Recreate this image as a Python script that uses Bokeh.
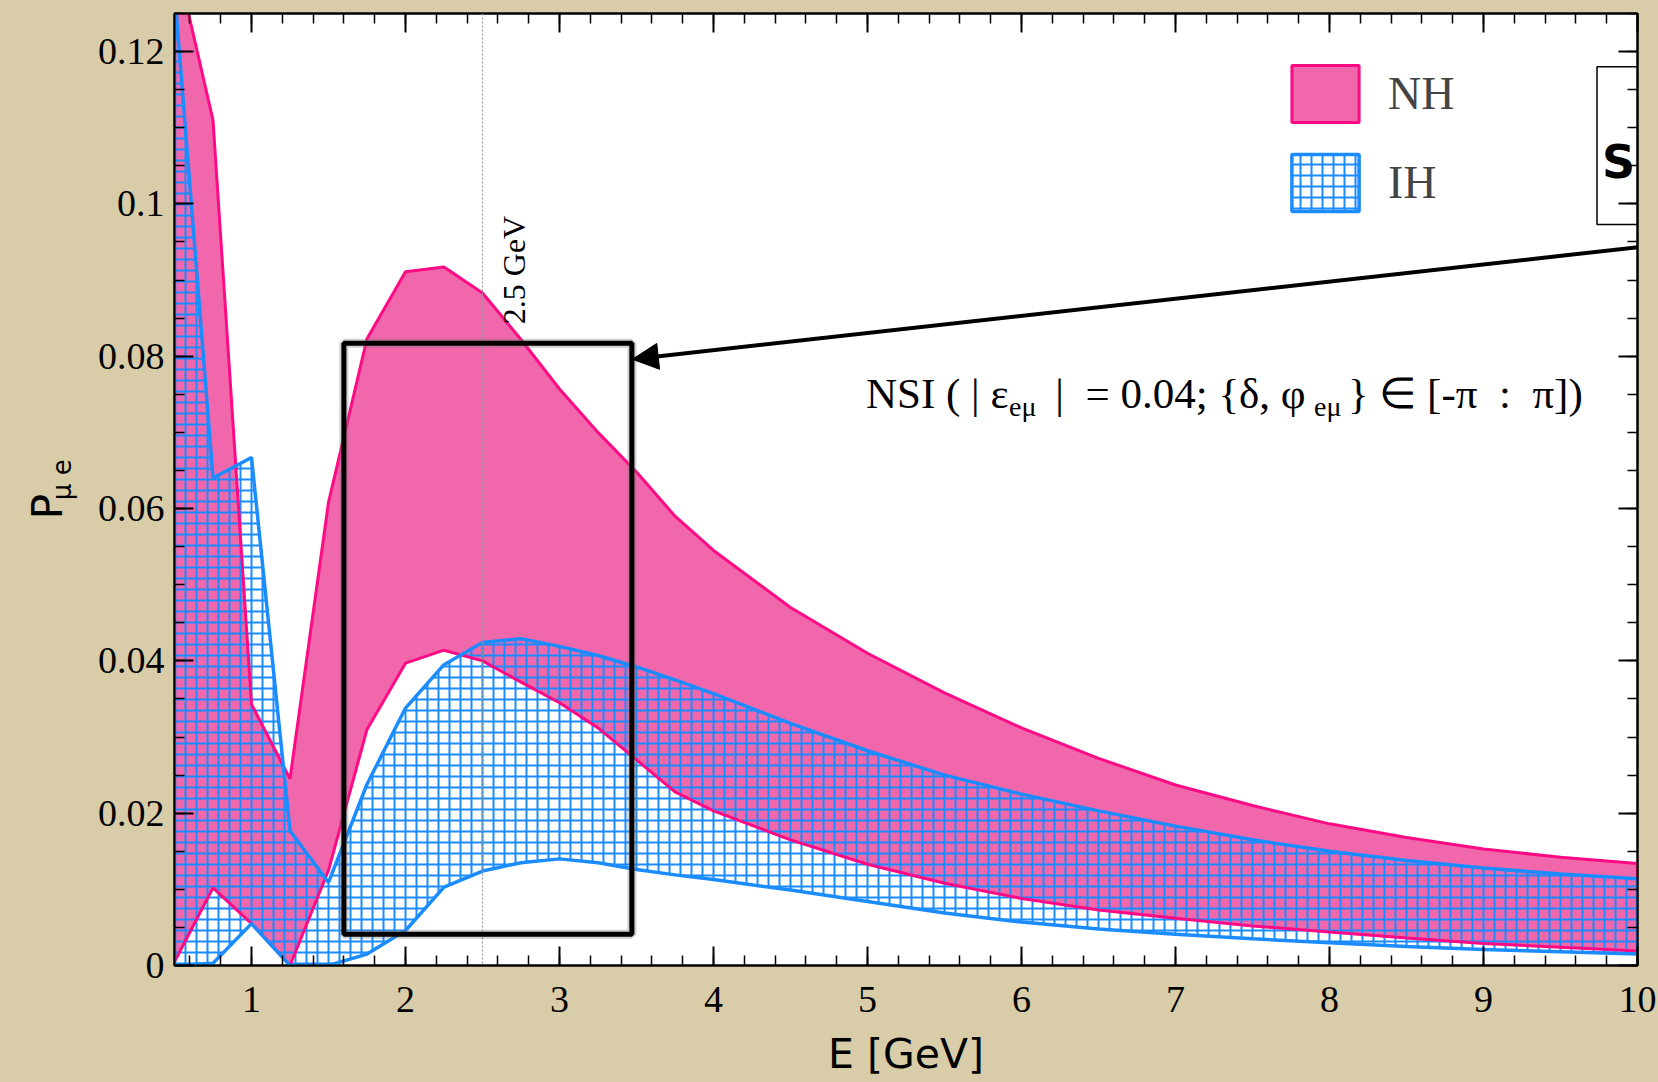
import numpy as np
from bokeh.plotting import figure
from bokeh.layouts import row
from bokeh.models import (Range1d, LinearAxis, SingleIntervalTicker, PrintfTickFormatter,
                          CustomJSTickFormatter, Span, Label, BoxAnnotation, Arrow, NormalHead,
                          Legend, LegendItem)
from bokeh.embed import file_html
from bokeh.resources import INLINE

# ---------------- data ----------------
energy = [0.5, 0.75, 1.0, 1.25, 1.5, 1.75, 2.0, 2.25, 2.5, 2.75, 3.0, 3.25, 3.5, 3.75,
          4.0, 4.5, 5.0, 5.5, 6.0, 6.5, 7.0, 7.5, 8.0, 8.5, 9.0, 9.5, 10.0]
nh_upper = [0.133, 0.111, 0.0343, 0.0245, 0.0608, 0.0823, 0.0911, 0.0917, 0.0883, 0.0822,
            0.0757, 0.0700, 0.0648, 0.0590, 0.0545, 0.0470, 0.0410, 0.0358, 0.0312, 0.0272,
            0.0237, 0.0210, 0.0186, 0.0168, 0.0153, 0.0142, 0.0134]
nh_lower = [0.0005, 0.0102, 0.0055, 0.0, 0.0125, 0.0310, 0.0397, 0.0414, 0.0400, 0.0372,
            0.0345, 0.0312, 0.0270, 0.0228, 0.0203, 0.0165, 0.0133, 0.0108, 0.0088, 0.0073,
            0.0062, 0.0052, 0.0044, 0.0036, 0.0029, 0.0024, 0.0019]
ih_upper = [0.128, 0.064, 0.0667, 0.0177, 0.0109, 0.0238, 0.0338, 0.0395, 0.0424, 0.0429,
            0.0419, 0.0407, 0.0392, 0.0375, 0.0357, 0.0318, 0.0282, 0.0250, 0.0225, 0.0203,
            0.0183, 0.0165, 0.0150, 0.0138, 0.0128, 0.0120, 0.0114]
ih_lower = [0.0, 0.0003, 0.0055, 0.0, 0.0, 0.0015, 0.0046, 0.0103, 0.0124, 0.0135,
            0.0140, 0.0135, 0.0126, 0.0119, 0.0113, 0.0099, 0.0084, 0.0069, 0.0057, 0.0048,
            0.0041, 0.0035, 0.0030, 0.0025, 0.0021, 0.0018, 0.0015]

series_names = ["NH", "IH"]
x_label = "E [GeV]"
y_label_main = "P"
y_label_sub = "μ e"
marker_energy = 2.5
marker_label = "2.5 GeV"
zoom_box_e = [1.6, 3.47]
zoom_box_p = [0.0041, 0.0817]
arrow_from = [10.13, 0.0946]
arrow_to = [3.473, 0.0796]
sketch_box_e = [9.737, 10.6]
sketch_box_p = [0.0973, 0.118]

PINK = "#ff0a85"
BLUE = "#1a8cff"
BG = "#d8cda8"
NBSP = "\u00a0"
Y_RANGE = (0, 0.125)

# ---------------- left strip with the y-axis title ----------------
left = figure(frame_width=80, frame_height=952, x_range=Range1d(0, 80),
              y_range=Range1d(*Y_RANGE), title=None,
              output_backend="svg", toolbar_location=None, x_axis_location=None,
              y_axis_location=None, min_border_left=0, min_border_right=0,
              min_border_top=13, min_border_bottom=117, background_fill_color=BG,
              border_fill_color=BG, outline_line_color=None)
left.grid.visible = False
left.add_layout(Label(x=47, y=0.0586, text=y_label_main, angle=np.pi / 2, text_align="left",
                      text_baseline="alphabetic", text_font="DejaVu Sans",
                      text_font_size="42px", text_color="black"))
left.add_layout(Label(x=61, y=0.0611, text=y_label_sub, angle=np.pi / 2, text_align="left",
                      text_baseline="alphabetic", text_font="DejaVu Sans",
                      text_font_size="26px", text_color="black"))

# ---------------- main plot ----------------
p = figure(width=1578, height=1082, x_range=Range1d(0.5, 10), y_range=Range1d(*Y_RANGE),
           output_backend="svg", toolbar_location=None,
           min_border_left=94, min_border_right=21, min_border_top=13, min_border_bottom=117,
           background_fill_color="white", border_fill_color=BG,
           outline_line_color="black", outline_line_width=2)
p.xgrid.visible = False
p.ygrid.visible = False

x_poly = energy + energy[::-1]
nh_poly = nh_upper + nh_lower[::-1]
ih_poly = ih_upper + ih_lower[::-1]

nh_fill = p.patch(x_poly, nh_poly, fill_color="#e8157f", fill_alpha=0.65, line_alpha=0)
ih_fill = p.patch(x_poly, ih_poly, fill_alpha=0, hatch_pattern="cross", hatch_color=BLUE,
                  hatch_scale=11, hatch_weight=2, line_alpha=0)
nh_line = p.patch(x_poly, nh_poly, fill_alpha=0, line_color=PINK, line_width=3)
ih_line = p.patch(x_poly, ih_poly, fill_alpha=0, line_color=BLUE, line_width=3.5)

tick_font = "Liberation Serif"
p.xaxis.ticker = SingleIntervalTicker(interval=1, num_minor_ticks=5)
p.yaxis.ticker = SingleIntervalTicker(interval=0.02, num_minor_ticks=4)
p.xaxis.formatter = PrintfTickFormatter(format="%g")
p.yaxis.formatter = PrintfTickFormatter(format="%g")
for ax in (p.xaxis[0], p.yaxis[0]):
    ax.major_tick_in = 19
    ax.major_tick_out = 0
    ax.minor_tick_in = 10
    ax.minor_tick_out = 0
    ax.axis_line_width = 2
    ax.major_tick_line_width = 2
    ax.minor_tick_line_width = 1.5
    ax.major_label_text_font = tick_font
    ax.major_label_text_font_size = "38px"
    ax.major_label_text_color = "black"
p.xaxis.major_label_standoff = 21
p.yaxis.major_label_standoff = 10
p.xaxis.axis_label = x_label
p.xaxis.axis_label_text_font = "DejaVu Sans"
p.xaxis.axis_label_text_font_size = "41px"
p.xaxis.axis_label_text_font_style = "normal"
p.xaxis.axis_label_text_color = "black"
p.xaxis.axis_label_standoff = 15

blank = CustomJSTickFormatter(code="return ''")
top_ax = LinearAxis(ticker=SingleIntervalTicker(interval=1, num_minor_ticks=5), formatter=blank)
right_ax = LinearAxis(ticker=SingleIntervalTicker(interval=0.02, num_minor_ticks=4), formatter=blank)
for ax in (top_ax, right_ax):
    ax.major_tick_in = 19
    ax.major_tick_out = 0
    ax.minor_tick_in = 10
    ax.minor_tick_out = 0
    ax.axis_line_width = 2
    ax.major_tick_line_width = 2
    ax.minor_tick_line_width = 1.5
    ax.major_label_text_font_size = "1px"
    ax.major_label_standoff = 0
p.add_layout(top_ax, "above")
p.add_layout(right_ax, "right")

# 2.5 GeV marker
p.add_layout(Span(location=marker_energy, dimension="height", line_color="#9a9a9a",
                  line_width=1.2, line_dash="2 2"))
p.add_layout(Label(x=marker_energy, x_offset=31, y=0.0842, text=marker_label, angle=np.pi / 2,
                   text_align="left", text_baseline="alphabetic", text_font="Liberation Serif",
                   text_font_size="32px", text_color="black"))

# zoom box (with a soft shadow) + arrow
p.add_layout(BoxAnnotation(left=zoom_box_e[0], right=zoom_box_e[1], bottom=zoom_box_p[0],
                           top=zoom_box_p[1], fill_alpha=0, line_color="#777777",
                           line_alpha=0.35, line_width=9))
p.add_layout(BoxAnnotation(left=zoom_box_e[0], right=zoom_box_e[1], bottom=zoom_box_p[0],
                           top=zoom_box_p[1], fill_alpha=0, line_color="black", line_alpha=1,
                           line_width=5))
p.add_layout(Arrow(end=NormalHead(size=26, fill_color="black", line_color="black"),
                   x_start=arrow_from[0], y_start=arrow_from[1],
                   x_end=arrow_to[0], y_end=arrow_to[1], line_width=4, line_color="black"))

# NSI annotation, pieces with subscripts
nsi_font = "Liberation Serif"
nsi_pieces = [
    (4.990, 0.0731, 15, "NSI" + NBSP + "(" + NBSP + "|" + NBSP + "ε", "43px"),
    (5.919, 0.0721, 10, "eμ", "28px"),
    (6.150, 0.0731, 15, NBSP + "|" + NBSP + NBSP + "=" + NBSP + "0.04;" + NBSP + "{δ," + NBSP + "φ", "43px"),
    (7.900, 0.0721, 10, "eμ", "28px"),
    (8.120, 0.0731, 15, "}" + NBSP + "∈" + NBSP + "[-π" + NBSP + NBSP + ":" + NBSP + NBSP + "π])", "43px"),
]
for xx, yy, yo, tt, fs in nsi_pieces:
    p.add_layout(Label(x=xx, y=yy, y_offset=yo, text=tt, text_align="left",
                       text_baseline="alphabetic", text_font=nsi_font, text_font_size=fs,
                       text_color="black"))

# sketch box at top right with its "S"
p.add_layout(BoxAnnotation(left=sketch_box_e[0], right=sketch_box_e[1], bottom=sketch_box_p[0],
                           top=sketch_box_p[1], fill_alpha=0, line_color="black", line_alpha=1,
                           line_width=1.5))
p.add_layout(Label(x=9.77, y=0.1035, y_offset=15, text="S", text_align="left",
                   text_baseline="alphabetic", text_font="DejaVu Sans", text_font_style="bold",
                   text_font_size="46px", text_color="black"))

# legend
legend = Legend(items=[LegendItem(label=series_names[0], renderers=[nh_fill, nh_line]),
                       LegendItem(label=series_names[1], renderers=[ih_fill, ih_line])],
                location=(1109, 747), orientation="vertical", glyph_width=84, glyph_height=71,
                spacing=18, padding=0, margin=0, label_standoff=21,
                label_text_font="Liberation Serif", label_text_font_size="46px",
                label_text_baseline="middle",
                border_line_alpha=0, background_fill_alpha=0)
p.add_layout(legend)

layout = row(left, p)
html = file_html(layout, INLINE, title="P_mue vs E")
html = html.replace("<body>", '<body style="background-color:%s;">' % BG)
open("out.html", "w").write(html)
